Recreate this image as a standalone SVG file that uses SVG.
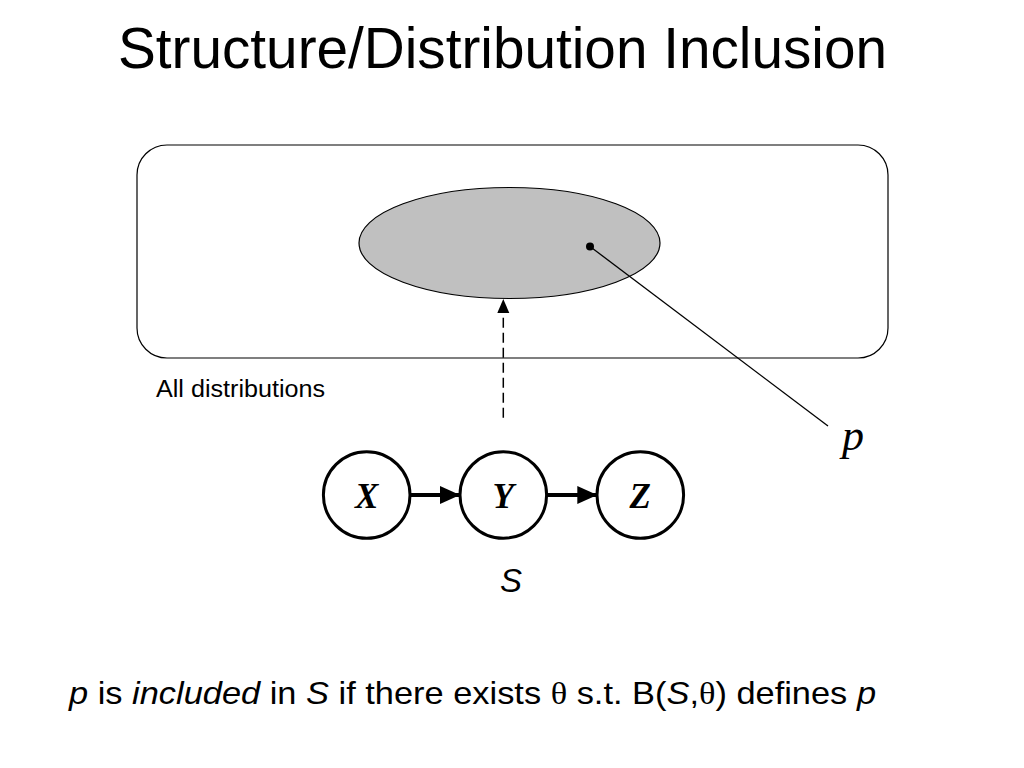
<svg xmlns="http://www.w3.org/2000/svg" width="1024" height="768" viewBox="0 0 1024 768">
<style>
.sans{font-family:"Liberation Sans",Arial,sans-serif;fill:#000}
.serif{font-family:"Liberation Serif","Times New Roman",serif;fill:#000}
.node{fill:#fff;stroke:#000;stroke-width:3}
.lbl{font-family:"Liberation Serif","Times New Roman",serif;font-weight:bold;font-style:italic;font-size:35px;text-anchor:middle}
.edge{stroke:#000;stroke-width:4;fill:none}
</style>
<defs>
<marker id="ah" markerWidth="22" markerHeight="20" refX="20" refY="10" orient="auto" markerUnits="userSpaceOnUse">
<path d="M0,1 L20,10 L0,19 Z" fill="#000"/>
</marker>
<marker id="ahs" markerWidth="14" markerHeight="14" refX="14" refY="7" orient="auto" markerUnits="userSpaceOnUse">
<path d="M0,1 L14,7 L0,13 Z" fill="#000"/>
</marker>
</defs>
<rect width="1024" height="768" fill="#fff"/>
<text id="title" class="sans" x="118" y="68" font-size="56.5" textLength="769" lengthAdjust="spacingAndGlyphs">Structure/Distribution Inclusion</text>
<g id="all-distributions">
<rect x="137" y="145" width="751" height="213" rx="30" ry="30" fill="#fff" stroke="#000" stroke-width="1.2"/>
<text class="sans" x="156" y="396.5" font-size="23.5" textLength="169" lengthAdjust="spacingAndGlyphs">All distributions</text>
</g>
<g id="included-set">
<ellipse cx="509.5" cy="243" rx="150.5" ry="55.5" fill="#c0c0c0" stroke="#000" stroke-width="1.2"/>
</g>
<g id="point-p">
<circle cx="590" cy="246.5" r="4" fill="#000"/>
<text class="serif" x="842" y="450" font-size="44" font-style="italic">p</text>
</g>
<g id="connectors">
<line x1="590" y1="246.5" x2="828" y2="426" stroke="#000" stroke-width="1.3"/>
<line x1="503.3" y1="417.7" x2="503.3" y2="299" stroke="#000" stroke-width="1.5" stroke-dasharray="10,5" marker-end="url(#ahs)"/>
<line class="edge" x1="410" y1="495" x2="460" y2="495" marker-end="url(#ah)"/>
<line class="edge" x1="546.7" y1="495" x2="597.3" y2="495" marker-end="url(#ah)"/>
</g>
<g id="node-X">
<circle class="node" cx="366.7" cy="495" r="43.3"/>
<text class="lbl" x="366.7" y="508">X</text>
</g>
<g id="node-Y">
<circle class="node" cx="503.3" cy="495" r="43.3"/>
<text class="lbl" x="503.3" y="508">Y</text>
</g>
<g id="node-Z">
<circle class="node" cx="640.3" cy="495" r="43.3"/>
<text class="lbl" x="640.3" y="508">Z</text>
</g>
<text id="label-S" class="sans" x="511" y="591.7" font-size="33" font-style="italic" text-anchor="middle">S</text>
<text id="caption" class="sans" x="69" y="703.5" font-size="32" textLength="807" lengthAdjust="spacingAndGlyphs"><tspan font-style="italic">p</tspan> is <tspan font-style="italic">included</tspan> in <tspan font-style="italic">S</tspan> if there exists <tspan font-family="Liberation Serif, serif">θ</tspan> s.t. B(<tspan font-style="italic">S</tspan>,<tspan font-family="Liberation Serif, serif">θ</tspan>) defines <tspan font-style="italic">p</tspan></text>
</svg>
